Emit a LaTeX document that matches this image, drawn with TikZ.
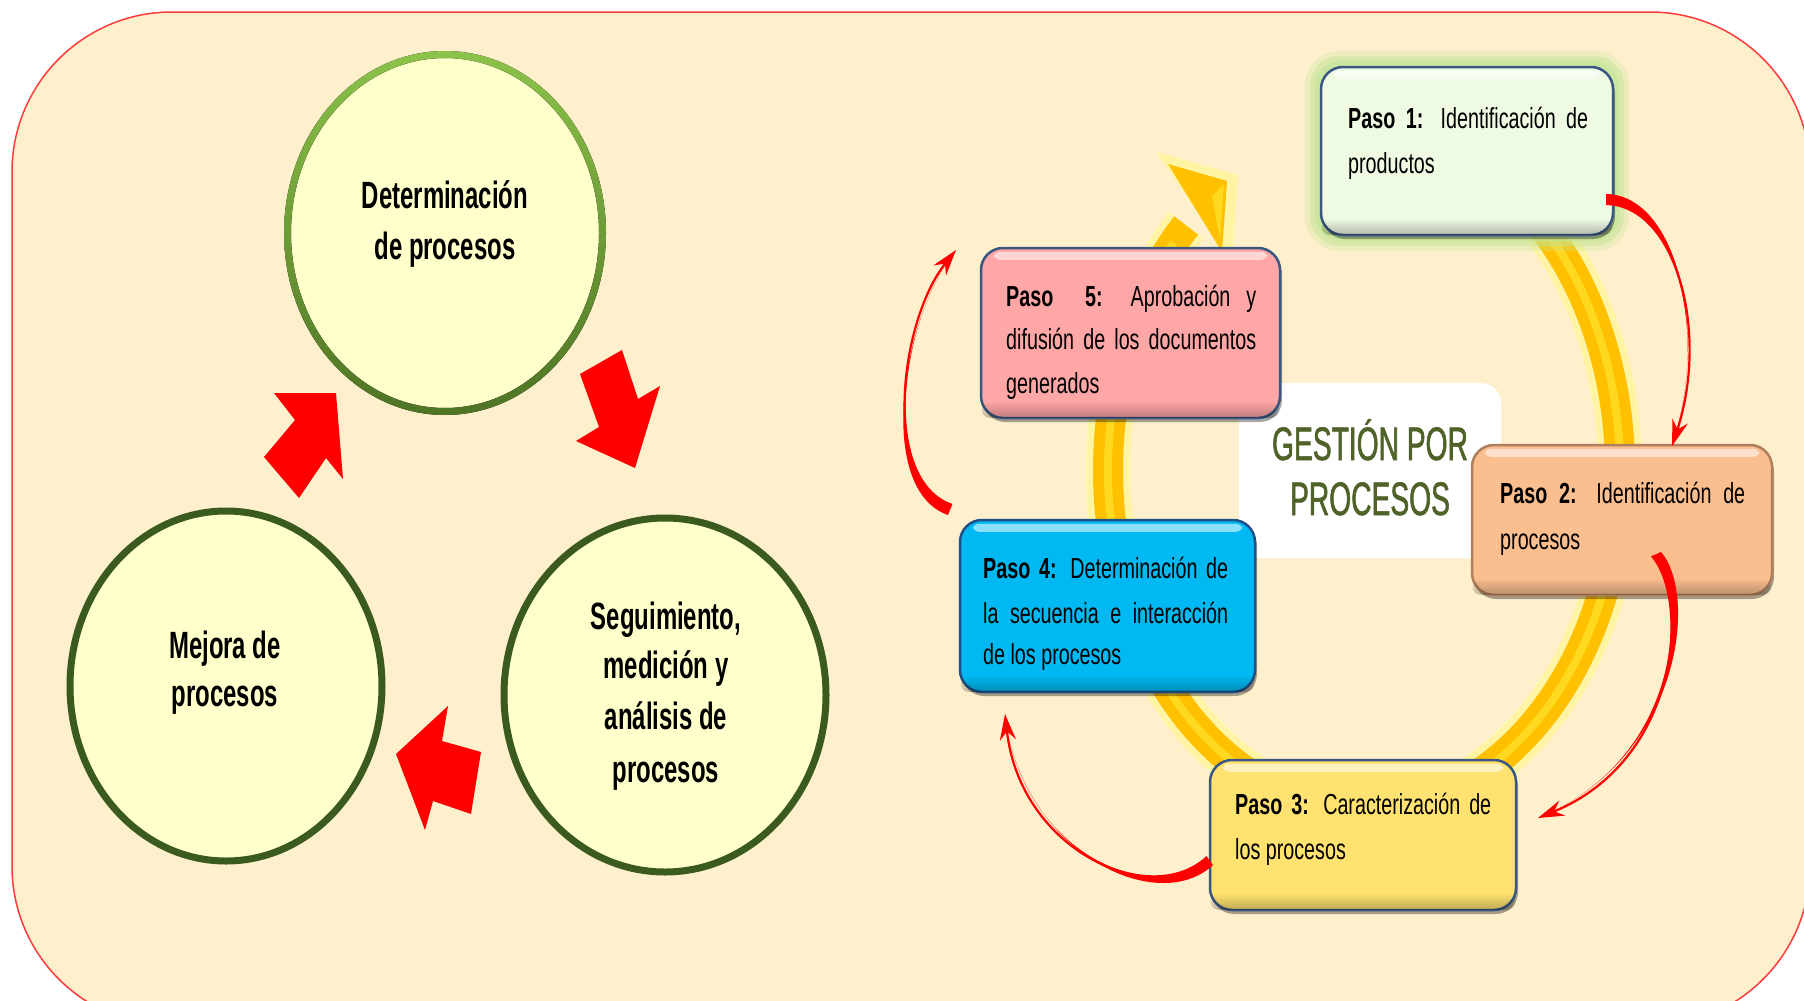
\documentclass[tikz,border=0pt]{standalone}
\usepackage{fontspec}
\setmainfont{Liberation Sans}
\newfontfamily\circfont[FakeStretch=0.63]{Liberation Sans}
\newfontfamily\boxfont[FakeStretch=0.68]{Liberation Sans}
\newfontfamily\titfont[FakeStretch=0.60,FakeBold=1.2]{Liberation Sans}
\usetikzlibrary{arrows.meta,shapes.geometric,calc,fadings,shadows}
\definecolor{bg}{HTML}{FFF0CD}
\definecolor{bgline}{HTML}{FF3B3B}
\definecolor{cream}{HTML}{FFFFCC}
\definecolor{ltgreen}{HTML}{8CC34A}
\definecolor{mdgreen}{HTML}{4E7424}
\definecolor{dkgreen}{HTML}{3B5A20}
\definecolor{ringc}{HTML}{FFC000}
\definecolor{ringstripe}{HTML}{FFD820}
\definecolor{ringglow}{HTML}{FFF59A}
\definecolor{pafill}{HTML}{EFFAE3}
\definecolor{paglow}{HTML}{C2E596}
\definecolor{pbfill}{HTML}{FBBE8E}
\definecolor{pbline}{HTML}{B07F5E}
\definecolor{pcfill}{HTML}{FFE270}
\definecolor{pdfill}{HTML}{00B9F2}
\definecolor{pdline}{HTML}{1F4F86}
\definecolor{pefill}{HTML}{FFA6A6}
\definecolor{boxline}{HTML}{3A5683}
\definecolor{titgreen}{HTML}{4F6228}
\newcommand\bevelbox[1]{%
  \fill[white, opacity=.55, rounded corners=6pt] ($(#1.north west)+(14,5)$) rectangle ($(#1.north east)+(-14,13)$);
  \fill[black, opacity=.25, path fading=north, rounded corners=8pt] ($(#1.south west)+(2,-18)$) rectangle ($(#1.south east)+(-2,-1.5)$);
}
\begin{document}
\begin{tikzpicture}[x=1pt,y=-1pt,
  pbox/.style={rounded corners=22pt, line width=2.5pt, inner sep=0pt,
    drop shadow={shadow xshift=2pt, shadow yshift=-4pt, opacity=.35, fill=black}},
  btxt/.style={anchor=base west, inner sep=0pt, font=\boxfont\fontsize{29pt}{34pt}\selectfont},
  ctxt/.style={anchor=base, inner sep=0pt, font=\circfont\bfseries\fontsize{38pt}{40pt}\selectfont},
  ttxt/.style={anchor=base, inner sep=0pt, text=titgreen, font=\titfont\fontsize{47pt}{50pt}\selectfont},
  circ/.style={ellipse, inner sep=0pt, fill=cream},
  redcurve/.style={red, line width=2.2pt, -{Stealth[length=26pt,width=16pt]}}]
\useasboundingbox (0,0) rectangle (1804,1001);
\clip (0,0) rectangle (1804,1001);
% background
\draw[draw=bgline, fill=bg, line width=1.5pt, rounded corners=160pt] (12,12) rectangle (1810,1026);

% ---------- left cycle ----------
\node[circ, minimum width=308pt, minimum height=350pt] (ctop) at (445,233) {};
\fill[top color=ltgreen, bottom color=mdgreen, even odd rule]
  (445,233) ellipse [x radius=161, y radius=182]
  (445,233) ellipse [x radius=154, y radius=175];
\node[circ, draw=dkgreen, line width=7pt, minimum width=312pt, minimum height=350pt] (cleft) at (226,686) {};
\node[circ, draw=dkgreen, line width=7pt, minimum width=322pt, minimum height=354pt] (cright) at (665,695) {};

\node[ctxt] (ct1) at (445,208) {Determinación};
\node[ctxt] (ct2) at (445,259) {de procesos};
\node[ctxt] (cl1) at (225,658) {Mejora de};
\node[ctxt] (cl2) at (225,706) {procesos};
\node[ctxt] (cr1) at (666,629) {Seguimiento,};
\node[ctxt] (cr2) at (666,678) {medición y};
\node[ctxt] (cr3) at (666,729) {análisis de};
\node[ctxt] (cr4) at (666,782) {procesos};

% block arrows
\fill[red] (635,468) -- (576,441) -- (599,427) -- (580,374) -- (622,350) -- (638,399) -- (660,386) -- cycle;
\fill[red] (396,754) -- (448,706) -- (442,741) -- (481,752) -- (471,814) -- (433,801) -- (425,830) -- cycle;
\fill[red] (336,393) -- (343,479) -- (326,458) -- (299,498) -- (264,457) -- (295,420) -- (274,393) -- cycle;

% ---------- right cycle ----------
\node[fill=white, rounded corners=20pt, minimum width=262pt, minimum height=175pt, inner sep=0pt] (ctr) at (1370,470.5) {};
\node[ttxt] (tit1) at (1370,460) {GESTIÓN POR};
\node[ttxt] (tit2) at (1370,515) {PROCESOS};

% ring arrow
\draw[ringglow, opacity=.8, line width=44pt] (1492,175.6) arc[start angle=-60, end angle=226, x radius=256, y radius=340];
\fill[ringglow, opacity=.8] (1156,152) -- (1238,175) -- (1232,262) -- cycle;
\draw[ringc, line width=30pt] (1492,175.6) arc[start angle=-60, end angle=226, x radius=256, y radius=340];
\draw[ringstripe, line width=8pt] (1492,175.6) arc[start angle=-60, end angle=222, x radius=256, y radius=340];
\fill[ringc] (1168,164) -- (1227,181) -- (1222,252) -- cycle;
\fill[ringstripe] (1212,196) -- (1224,184) -- (1220,240) -- cycle;

% Paso 1 glow
\fill[paglow, opacity=.3, rounded corners=34pt] (1305,51) rectangle (1629,251);
\fill[paglow, opacity=.45, rounded corners=30pt] (1310,56) rectangle (1624,246);
\fill[paglow, opacity=.6, rounded corners=26pt] (1315,61) rectangle (1619,241);

% boxes
\node[pbox, draw=boxline, fill=pafill, minimum width=292pt, minimum height=168pt] (p1) at (1467,151) {};
\node[pbox, draw=pbline, fill=pbfill, minimum width=300pt, minimum height=150pt] (p2) at (1622,520) {};
\node[pbox, draw=boxline, fill=pcfill, minimum width=306pt, minimum height=150pt] (p3) at (1363,835) {};
\node[pbox, draw=pdline, fill=pdfill, minimum width=295pt, minimum height=172pt] (p4) at (1107.5,606) {};
\node[pbox, draw=boxline, fill=pefill, minimum width=299pt, minimum height=170pt] (p5) at (1130.5,333) {};
\bevelbox{p1}\bevelbox{p2}\bevelbox{p3}\bevelbox{p4}\bevelbox{p5}

% box texts
\node[btxt] (p1a) at (1348,128) {\makebox[240pt][s]{\textbf{Paso 1:} Identificación de}};
\node[btxt] (p1b) at (1348,173) {productos};
\node[btxt] (p2a) at (1500,503) {\makebox[245pt][s]{\textbf{Paso 2:} Identificación de}};
\node[btxt] (p2b) at (1500,549) {procesos};
\node[btxt] (p3a) at (1235,814) {\makebox[256pt][s]{\textbf{Paso 3:} Caracterización de}};
\node[btxt] (p3b) at (1235,859) {los procesos};
\node[btxt] (p4a) at (983,578) {\makebox[245pt][s]{\textbf{Paso 4:} Determinación de}};
\node[btxt] (p4b) at (983,623) {\makebox[245pt][s]{la secuencia e interacción}};
\node[btxt] (p4c) at (983,664) {de los procesos};
\node[btxt] (p5a) at (1006,306) {\makebox[250pt][s]{\textbf{Paso\ \ 5:} Aprobación y}};
\node[btxt] (p5b) at (1006,349) {\makebox[250pt][s]{difusión de los documentos}};
\node[btxt] (p5c) at (1006,393) {generados};

% red curved arrows
\coordinate (a0) at (1606,204); \coordinate (a3) at (1672,446);
\coordinate (b0) at (1652,556); \coordinate (b3) at (1538,818);
\coordinate (c0) at (1207,857); \coordinate (c3) at (1005,714);
\coordinate (d0) at (952,505);  \coordinate (d3) at (956,250);
\fill[red] (a0) .. controls (1675,205) and (1710,330) .. (a3) .. controls (1710,330) and (1676,195) .. (1606,194) -- cycle;
\draw[redcurve] (a0) .. controls (1675,205) and (1710,330) .. (a3);
\fill[red] (b0) .. controls (1690,600) and (1680,760) .. (b3) .. controls (1680,760) and (1699,596) .. (1661,552) -- cycle;
\draw[redcurve] (b0) .. controls (1690,600) and (1680,760) .. (b3);
\fill[red] (c0) .. controls (1150,910) and (1020,850) .. (c3) .. controls (1020,850) and (1156,918) .. (1213,865) -- cycle;
\draw[redcurve] (c0) .. controls (1150,910) and (1020,850) .. (c3);
\fill[red] (d0) .. controls (880,480) and (900,320) .. (d3) .. controls (900,320) and (876,490) .. (948,515) -- cycle;
\draw[redcurve] (d0) .. controls (880,480) and (900,320) .. (d3);
\end{tikzpicture}
\end{document}
